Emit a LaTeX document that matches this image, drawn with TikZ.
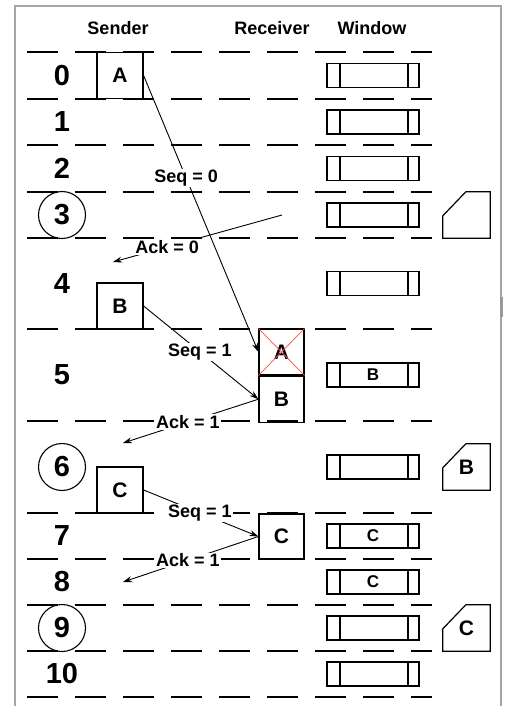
\documentclass[tikz,border=0pt]{standalone}
\usepackage{fontspec}
\setmainfont{Liberation Sans}
\usetikzlibrary{arrows.meta,positioning,calc}

\begin{document}
\begin{tikzpicture}[x=1pt, y=-1pt, >={Stealth[length=9pt,width=6pt]},
  font=\bfseries\fontsize{18}{20}\selectfont,
  frame/.style={draw=gray!70, line width=1.6pt},
  slot/.style={dash pattern=on 31pt off 17pt, line width=1.4pt},
  rownum/.style={font=\bfseries\fontsize{29}{31}\selectfont, inner sep=0pt},
  timeout/.style={rownum, draw, circle, minimum size=47pt, line width=1.1pt},
  pkt/.style={draw, line width=1.2pt, minimum width=46pt, minimum height=46pt, inner sep=0pt, font=\bfseries\fontsize{21}{23}\selectfont},
  window/.style={draw, line width=1.2pt, minimum width=92pt, minimum height=24pt, inner sep=0pt,
    font=\bfseries\fontsize{17}{19}\selectfont,
    path picture={\draw[line width=1.2pt]
      ([xshift=13pt]path picture bounding box.north west) -- ([xshift=13pt]path picture bounding box.south west)
      ([xshift=-11pt]path picture bounding box.north east) -- ([xshift=-11pt]path picture bounding box.south east);}},
  buffer/.style={minimum width=47pt, minimum height=46pt, inner sep=0pt, font=\bfseries\fontsize{21}{23}\selectfont},
  msg/.style={->, line width=0.9pt},
  lbl/.style={fill=white, inner sep=1pt, font=\bfseries\fontsize{18}{20}\selectfont}]
\useasboundingbox (0,0) rectangle (506,706);
% frame
\draw[frame] (15,720) -- (15,6) -- (501,6) -- (501,720);
\draw[gray!80, line width=3pt] (501,297) -- (501,317);

% headers
\node (sender) at (118,28) {Sender};
\node (receiver) at (272,28) {Receiver};
\node (window) at (372,28) {Window};

% time slots
\foreach \y in {52,99,145,192,238,329,421,513,559,605,651,697}
  \draw[slot] (27,\y) -- (432,\y);

% slot numbers
\foreach \n/\y in {0/75.5,1/122,2/168.5,4/283.5,5/375,7/536,8/582,10/674}
  \node[rownum] (n\n) at (62,\y) {\n};
\foreach \n/\y in {3/215,6/467,9/628}
  \node[timeout] (n\n) at (62,\y) {\n};

% windows
\foreach \n/\y/\t in {0/75.5/,1/122/,2/168.5/,3/215/,4/283.5/,5/375/B,6/467/,7/536/C,8/582/C,9/628/,10/674/}
  \node[window] (w\n) at (373,\y) {\t};

% buffers
\node[buffer] (b3) at (466.5,215) {};
\node[buffer] (b6) at (466.5,467) {B};
\node[buffer] (b9) at (466.5,628) {C};
\foreach \b in {b3,b6,b9}
  \draw[line width=1.2pt] (\b.south west) -- ([yshift=-24pt]\b.north west) -- ([xshift=23pt]\b.north west)
    -- (\b.north east) -- (\b.south east) -- cycle;

% sender packets
\node[pkt] (sA) at (120,75.5) {A};
\node[pkt] (sB) at (120,306) {B};
\node[pkt] (sC) at (120,490) {C};

% receiver packets
\node[pkt, minimum width=45pt] (rA) at (281.5,352) {A};
\node[pkt, minimum width=45pt, below=0pt of rA] (rB) {B};
\node[pkt, minimum width=45pt, minimum height=45pt] (rC) at (281.5,536.5) {C};
\draw[red!70, line width=0.7pt] (rA.north west) -- (rA.south east) (rA.north east) -- (rA.south west);

% messages
\coordinate (ack0s) at (282,215);
\coordinate (ack0e) at (113,262);
\coordinate (ack1e) at (123,443);
\coordinate (ack2e) at (123,582);
\draw[msg] (sA.east) -- node[lbl, pos=0.37] {Seq = 0} (rA.west);
\draw[msg] (ack0s) -- node[lbl, pos=0.68] {Ack = 0} (ack0e);
\draw[msg] (sB.east) -- node[lbl, pos=0.49] {Seq = 1} (rB.west);
\draw[msg] (rB.west) -- node[lbl, pos=0.52] {Ack = 1} (ack1e);
\draw[msg] (sC.east) -- node[lbl, pos=0.49] {Seq = 1} (rC.west);
\draw[msg] (rC.west) -- node[lbl, pos=0.52] {Ack = 1} (ack2e);
\end{tikzpicture}
\end{document}
